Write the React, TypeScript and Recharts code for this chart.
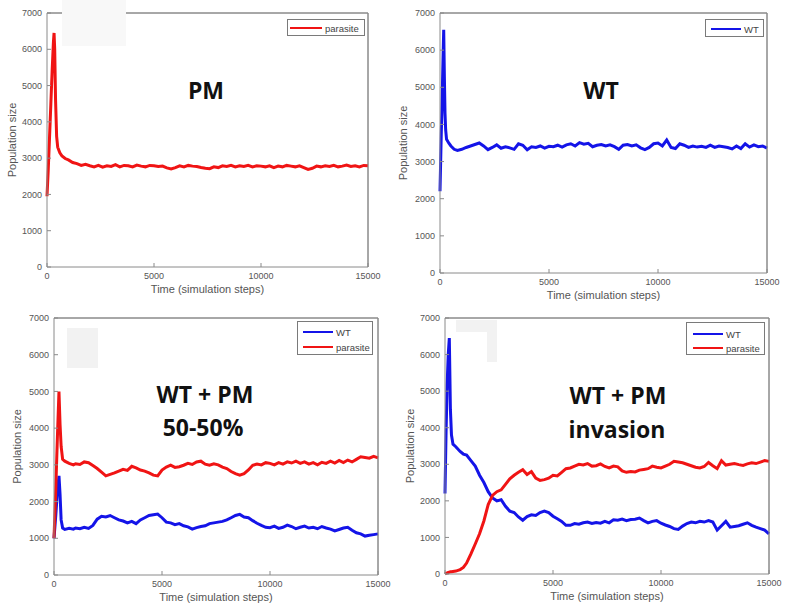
import React from 'react';
import { LineChart, Line, XAxis, YAxis, Legend, ReferenceLine } from 'recharts';

// ---------- data ----------
const tailSteps = [
  1000, 1200, 1400, 1600, 1800, 2000, 2200, 2400, 2600, 2800,
  3000, 3200, 3400, 3600, 3800, 4000, 4200, 4400, 4600, 4800,
  5000, 5200, 5400, 5600, 5800, 6000, 6200, 6400, 6600, 6800,
  7000, 7200, 7400, 7600, 7800, 8000, 8200, 8400, 8600, 8800,
  9000, 9200, 9400, 9600, 9800, 10000, 10200, 10400, 10600, 10800,
  11000, 11200, 11400, 11600, 11800, 12000, 12200, 12400, 12600, 12800,
  13000, 13200, 13400, 13600, 13800, 14000, 14200, 14400, 14600, 14800,
  15000,
];

// Panel "PM"
const pmHeadSteps = [0, 60, 120, 180, 240, 300, 330, 360, 400, 450, 500, 600, 700, 850];
const pmHeadParasite = [1950, 2700, 3600, 4500, 5400, 6200, 6450, 6000, 4600, 3600, 3300, 3150, 3060, 2990];
const pmTailParasite = [
  2950, 2880, 2850, 2800, 2830, 2790, 2760, 2800, 2750, 2790,
  2770, 2820, 2760, 2800, 2790, 2760, 2810, 2780, 2760, 2800,
  2790, 2770, 2780, 2730, 2700, 2740, 2790, 2760, 2800, 2780,
  2770, 2740, 2720, 2710, 2760, 2740, 2790, 2770, 2800, 2760,
  2790, 2770, 2800, 2760, 2790, 2780, 2760, 2790, 2740, 2780,
  2760, 2800, 2780, 2760, 2790, 2740, 2690, 2720, 2780, 2760,
  2790, 2770, 2800, 2760, 2780, 2810, 2770, 2790, 2760, 2800,
  2790,
];

// Panel "WT"
const wtHeadSteps = [0, 30, 60, 90, 110, 140, 170, 200, 230, 260, 300, 400, 500, 650, 800];
const wtHeadWT = [2200, 3000, 3800, 4400, 5000, 5800, 6550, 5300, 4300, 3850, 3600, 3500, 3420, 3330, 3300];
const wtTailWT = [
  3330, 3380, 3420, 3460, 3500, 3420, 3320, 3380, 3450, 3360,
  3400, 3370, 3330, 3480, 3440, 3320, 3400, 3380, 3420, 3360,
  3410, 3400, 3440, 3390, 3450, 3480, 3420, 3510, 3470, 3490,
  3400, 3440, 3460, 3420, 3450, 3400, 3330, 3440, 3460, 3420,
  3450, 3370, 3320, 3380, 3480, 3500, 3420, 3580, 3380, 3350,
  3480, 3440, 3380, 3420, 3390, 3410, 3380, 3440, 3380, 3420,
  3400, 3380, 3340, 3420, 3350, 3480, 3390, 3450, 3400, 3420,
  3360,
];

// Panel "WT + PM 50-50%"
const mixHeadSteps = [0, 80, 160, 230, 280, 330, 400, 500, 700, 900];
const mixHeadWT = [1000, 1600, 2300, 2700, 2200, 1500, 1280, 1240, 1270, 1250];
const mixHeadParasite = [1000, 2300, 3800, 5000, 4100, 3500, 3150, 3100, 3040, 3000];
const mixTailWT = [
  1280, 1260, 1300, 1270, 1350, 1520, 1600, 1580, 1620, 1560,
  1500, 1470, 1420, 1460, 1400, 1500, 1560, 1620, 1640, 1660,
  1560, 1440, 1420, 1370, 1400, 1340, 1310, 1250, 1290, 1320,
  1340, 1400, 1420, 1440, 1460, 1500, 1560, 1620, 1650, 1580,
  1560, 1480, 1410, 1350, 1300, 1290, 1330, 1270, 1300, 1360,
  1320, 1260, 1300, 1330, 1280, 1300, 1260, 1320, 1280, 1250,
  1200, 1240, 1280, 1300, 1220, 1150, 1120, 1060, 1080, 1100,
  1120,
];
const mixTailParasite = [
  3030, 3010, 3080, 3060, 2980, 2900, 2800, 2700, 2740, 2780,
  2830, 2880, 2850, 2960, 2920, 2860, 2830, 2780, 2720, 2700,
  2860, 2940, 2990, 2930, 2950, 2990, 3040, 3010, 3080, 3100,
  3020, 2990, 3030, 3000, 2940, 2900, 2820, 2760, 2720, 2760,
  2860, 2990, 3020, 3000, 3060, 3040, 3000, 3060, 3020, 3080,
  3050, 3100, 3040, 3080, 3020, 3060, 3000, 3070, 3040, 3100,
  3050, 3120, 3060, 3130, 3080, 3150, 3220, 3200, 3180, 3230,
  3190,
];

// Panel "WT + PM invasion"
const invHeadSteps = [0, 50, 100, 150, 200, 250, 300, 370, 500, 700, 850];
const invHeadWT = [2200, 3900, 5200, 6000, 6450, 4500, 3800, 3550, 3480, 3350, 3280];
const invHeadParasite = [0, 20, 30, 40, 50, 60, 60, 70, 80, 120, 180];
const invTailWT = [
  3250, 3100, 2950, 2700, 2500, 2250, 2080, 2000, 2030, 1850,
  1720, 1680, 1560, 1470, 1570, 1620, 1600, 1680, 1720, 1680,
  1580, 1510, 1440, 1330, 1330, 1380, 1360, 1400, 1420, 1380,
  1410, 1390, 1440, 1400, 1480, 1470, 1500, 1460, 1490, 1500,
  1530, 1460, 1400, 1440, 1460, 1390, 1340, 1300, 1240, 1220,
  1310, 1380, 1420, 1400, 1440, 1420, 1460, 1420, 1200, 1320,
  1440, 1280, 1300, 1320, 1360, 1400, 1330, 1280, 1240, 1200,
  1100,
];
const invTailParasite = [
  300, 550, 820, 1100, 1450, 1900, 2150, 2250, 2300, 2450,
  2600, 2700, 2780, 2850, 2720, 2800, 2620, 2560, 2580, 2620,
  2700, 2680, 2780, 2880, 2900, 2950, 3000, 2980, 3020, 2950,
  2960, 3010, 2940, 2900, 2950, 2930, 2820, 2780, 2800, 2790,
  2840, 2860, 2880, 2950, 2920, 2900, 2950, 3000, 3080, 3060,
  3040, 3000, 2960, 2920, 2900, 2940, 3050, 2960, 2880, 3100,
  2980, 3000, 3020, 2990, 2970, 3010, 3040, 3020, 3060, 3100,
  3080,
];

const xTicks = [0, 5000, 10000, 15000];
const yTicks = [0, 1000, 2000, 3000, 4000, 5000, 6000, 7000];

// ---------- build rows ----------
function rows(steps: number[], cols: Record<string, number[]>) {
  return steps.map((s, i) => {
    const r: Record<string, number> = { step: s };
    for (const k of Object.keys(cols)) r[k] = cols[k][i];
    return r;
  });
}

const pmData = rows([...pmHeadSteps, ...tailSteps], {
  parasite: [...pmHeadParasite, ...pmTailParasite],
});
const wtData = rows([...wtHeadSteps, ...tailSteps], {
  wt: [...wtHeadWT, ...wtTailWT],
});
const mixData = rows([...mixHeadSteps, ...tailSteps], {
  wt: [...mixHeadWT, ...mixTailWT],
  parasite: [...mixHeadParasite, ...mixTailParasite],
});
const invData = rows([...invHeadSteps, ...tailSteps], {
  wt: [...invHeadWT, ...invTailWT],
  parasite: [...invHeadParasite, ...invTailParasite],
});

// ---------- styling ----------
const RED = '#f01414';
const BLUE = '#1414e8';
const AXIS = '#8a8a8a';
const TXT = '#555555';
const SANS = '"Liberation Sans", Arial, sans-serif';

type Item = { label: string; color: string; key: string };
type LegendCfg = {
  left: number; top: number; w: number; h: number;
  lineStart: number; lineLen: number; rowCenters: number[];
};

type PanelProps = {
  plotLeft: number; plotTop: number; plotW: number; plotH: number;
  data: Record<string, number>[];
  items: Item[];
  legend: LegendCfg;
  yLabelOffset: number;
};

const ML = 47, MT = 13, MR = 15, XH = 32;

function Panel(p: PanelProps) {
  const width = p.plotW + ML + MR;
  const height = p.plotH + MT + XH;
  const lg = p.legend;
  const legendContent = () => (
    <div
      style={{
        width: lg.w, height: lg.h, border: '1px solid #7a7a7a', background: '#fff',
        boxSizing: 'border-box', position: 'relative',
      }}
    >
      {p.items.map((it, i) => (
        <div
          key={it.key}
          style={{
            position: 'absolute', left: lg.lineStart - 1, top: lg.rowCenters[i] - 7, height: 14,
            display: 'flex', alignItems: 'center', whiteSpace: 'nowrap',
          }}
        >
          <span style={{ display: 'inline-block', width: lg.lineLen, height: 2, background: it.color }} />
          <span style={{ marginLeft: 3, fontFamily: SANS, fontSize: 9.5, color: '#444' }}>{it.label}</span>
        </div>
      ))}
    </div>
  );
  return (
    <div style={{ position: 'absolute', left: p.plotLeft - ML, top: p.plotTop - MT }}>
      <LineChart width={width} height={height} data={p.data} margin={{ top: MT - 1, right: MR - 1, bottom: 0, left: 0 }}>
        <XAxis
          xAxisId="main" dataKey="step" type="number" domain={[0, 15000]} ticks={xTicks}
          height={XH} stroke={AXIS} tickSize={-4} tickMargin={10}
          tick={{ fontSize: 9, fill: TXT, fontFamily: SANS }}
          label={{ value: 'Time (simulation steps)', position: 'insideBottom', offset: 6, style: { fontSize: 11, fill: TXT, fontFamily: SANS } }}
        />
        <XAxis
          xAxisId="top" orientation="top" dataKey="step" type="number" domain={[0, 15000]} ticks={xTicks}
          height={1} stroke={AXIS} tickSize={-4} tick={false}
        />
        <YAxis
          yAxisId="main" type="number" domain={[0, 7000]} ticks={yTicks} width={ML}
          stroke={AXIS} tickSize={-4} tickMargin={9}
          tick={{ fontSize: 9, fill: TXT, fontFamily: SANS }}
          label={{ value: 'Population size', angle: -90, position: 'insideLeft', offset: p.yLabelOffset, style: { textAnchor: 'middle', fontSize: 11, fill: TXT, fontFamily: SANS } }}
        />
        <YAxis
          yAxisId="right" orientation="right" type="number" domain={[0, 7000]} ticks={yTicks} width={1}
          stroke={AXIS} tickSize={-4} tick={false}
        />
        <ReferenceLine xAxisId="main" yAxisId="main" y={7000} stroke={AXIS} ifOverflow="visible" />
        <ReferenceLine xAxisId="main" yAxisId="main" x={15000} stroke={AXIS} ifOverflow="visible" />
        <Legend
          layout="vertical" align="center" verticalAlign="middle"
          content={legendContent}
          wrapperStyle={{ left: lg.left, top: lg.top, width: lg.w, height: lg.h }}
        />
        {p.items.map((it) => (
          <Line
            key={it.key} xAxisId="main" yAxisId="main" type="linear" dataKey={it.key} name={it.label}
            stroke={it.color} strokeWidth={3} strokeLinejoin="miter" dot={false} isAnimationActive={false}
          />
        ))}
      </LineChart>
    </div>
  );
}

export default function App() {
  return (
    <div
      style={{
        position: 'absolute', left: 0, top: 0, width: 786, height: 606, background: '#fff',
        overflow: 'hidden',
      }}
    >
      <Panel
        plotLeft={47} plotTop={13} plotW={321} plotH={254} data={pmData}
        items={[{ key: 'parasite', label: 'parasite', color: RED }]}
        legend={{ left: 287, top: 19, w: 78, h: 17, lineStart: 3, lineLen: 32, rowCenters: [8] }}
        yLabelOffset={12}
      />
      <Panel
        plotLeft={440} plotTop={13} plotW={327} plotH={260} data={wtData}
        items={[{ key: 'wt', label: 'WT', color: BLUE }]}
        legend={{ left: 312, top: 19, w: 59, h: 18, lineStart: 6, lineLen: 30, rowCenters: [9] }}
        yLabelOffset={10}
      />
      <Panel
        plotLeft={54} plotTop={318} plotW={324} plotH={257} data={mixData}
        items={[
          { key: 'wt', label: 'WT', color: BLUE },
          { key: 'parasite', label: 'parasite', color: RED },
        ]}
        legend={{ left: 290, top: 16, w: 76, h: 34, lineStart: 6, lineLen: 30, rowCenters: [10, 25] }}
        yLabelOffset={10}
      />
      <Panel
        plotLeft={445} plotTop={318} plotW={324} plotH={256} data={invData}
        items={[
          { key: 'wt', label: 'WT', color: BLUE },
          { key: 'parasite', label: 'parasite', color: RED },
        ]}
        legend={{ left: 288, top: 17, w: 79, h: 33, lineStart: 7, lineLen: 30, rowCenters: [11, 25] }}
        yLabelOffset={12}
      />
      <svg
        width={786} height={606}
        style={{ position: 'absolute', left: 0, top: 0, pointerEvents: 'none' }}
      >
        <rect x={62} y={0} width={64} height={46} fill="#f8f8f8" />
        <rect x={67} y={328} width={31} height={40} fill="#f2f2f2" />
        <rect x={456} y={320} width={41} height={12} fill="#f2f2f2" />
        <rect x={487} y={332} width={10} height={30} fill="#f2f2f2" />
        <g fontFamily='"Open Sans", sans-serif' fontWeight={700} fontSize={23} fill="#111" textAnchor="middle">
          <text x={206} y={99}>PM</text>
          <text x={601} y={99}>WT</text>
          <text x={205} y={403}>WT + PM</text>
          <text x={203} y={436}>50-50%</text>
          <text x={618} y={404}>WT + PM</text>
          <text x={617} y={438}>invasion</text>
        </g>
      </svg>
    </div>
  );
}
